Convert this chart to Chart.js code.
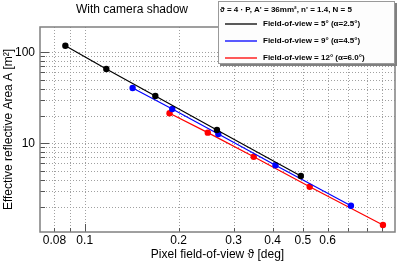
<!DOCTYPE html>
<html>
<head>
<meta charset="utf-8">
<script src="https://cdn.jsdelivr.net/npm/chart.js@4/dist/chart.umd.min.js"></script>
<style>
html,body{margin:0;padding:0;background:#fff;}
#wrap{width:399px;height:265px;position:relative;}
</style>
</head>
<body>
<div id="wrap"><canvas id="c" width="399" height="265"></canvas></div>
<script>
// ---- data ----
const seriesNames = ["Field-of-view = 5\u00B0 (\u03B1=2.5\u00B0)", "Field-of-view = 9\u00B0 (\u03B1=4.5\u00B0)", "Field-of-view = 12\u00B0 (\u03B1=6.0\u00B0)"];
const xBlack = [0.0867, 0.1173, 0.1684, 0.2653, 0.4926];
const yBlack = [118.2, 65.5, 33.1, 14.0, 4.37];
const xBlue  = [0.1424, 0.1908, 0.268, 0.4086, 0.713];
const yBlue  = [40.5, 23.8, 12.66, 5.73, 2.06];
const xRed   = [0.187, 0.248, 0.348, 0.526, 0.903];
const yRed   = [21.4, 13.1, 7.12, 3.33, 1.265];
const xGridValues = [0.08, 0.09, 0.1, 0.2, 0.3, 0.4, 0.5, 0.6, 0.7, 0.8, 0.9];
const xTickLabels = ["0.08", "0.1", "0.2", "0.3", "0.4", "0.5", "0.6"];
const yGridValues = [2, 3, 4, 5, 6, 7, 8, 9, 10, 20, 30, 40, 50, 60, 70, 80, 90, 100];
const yTickLabels = ["10", "100"];
const xMajor = [0.1];
const yMajor = [10, 100];
const titleText = "With camera shadow";
const xTitle = "Pixel field-of-view \u03D1 [deg]";
const yTitle = "Effective reflective Area A [m\u00B2]";
const legendHeader = "\u03D1 = 4 \u00B7 P, A' = 36mm\u00B2, n' = 1.4, N = 5";
const colors = ["#000000", "#0000ff", "#ff0000"];

function pts(xs, ys){ return xs.map((x,i)=>({x:x, y:ys[i]})); }

const FONT = "'Liberation Sans', Arial, Helvetica, sans-serif";

const decorPlugin = {
  id: 'decor',
  beforeDatasetsDraw(chart){
    const ctx = chart.ctx, a = chart.chartArea;
    const xs = chart.scales.x, ys = chart.scales.y;
    ctx.save();
    ctx.strokeStyle = '#a0a0a0';
    ctx.lineWidth = 1;
    ctx.setLineDash([1,2]);
    xGridValues.forEach(v=>{
      const px = Math.round(xs.getPixelForValue(v)) + 0.5;
      ctx.beginPath(); ctx.moveTo(px, a.top); ctx.lineTo(px, a.bottom); ctx.stroke();
    });
    yGridValues.forEach(v=>{
      const py = Math.round(ys.getPixelForValue(v)) + 0.5;
      ctx.beginPath(); ctx.moveTo(a.left, py); ctx.lineTo(a.right, py); ctx.stroke();
    });
    ctx.restore();
  },
  afterDatasetsDraw(chart){
    const ctx = chart.ctx, a = chart.chartArea;
    const xs = chart.scales.x, ys = chart.scales.y;
    ctx.save();
    // inside ticks
    ctx.strokeStyle = '#555';
    ctx.lineWidth = 1;
    xGridValues.forEach(v=>{
      const px = Math.round(xs.getPixelForValue(v)) + 0.5;
      const len = xMajor.includes(v) ? 8 : 4;
      ctx.beginPath(); ctx.moveTo(px, a.bottom); ctx.lineTo(px, a.bottom - len); ctx.stroke();
    });
    yGridValues.forEach(v=>{
      const py = Math.round(ys.getPixelForValue(v)) + 0.5;
      const len = yMajor.includes(v) ? 9 : 5;
      ctx.beginPath(); ctx.moveTo(a.left, py); ctx.lineTo(a.left + len, py); ctx.stroke();
    });
    // frame
    ctx.strokeStyle = '#808080';
    ctx.lineWidth = 1.5;
    ctx.strokeRect(a.left, a.top, a.right - a.left, a.bottom - a.top);
    ctx.restore();
  },
  afterDraw(chart){
    const ctx = chart.ctx, a = chart.chartArea;
    ctx.save();
    ctx.fillStyle = '#000';
    ctx.textBaseline = 'middle';
    // title
    ctx.font = '12px ' + FONT;
    ctx.textAlign = 'center';
    ctx.fillText(titleText, 132, 10);
    // x title
    ctx.fillText(xTitle, (a.left + a.right)/2, 255);
    // y title
    ctx.save();
    ctx.translate(9, (a.top + a.bottom)/2);
    ctx.rotate(-Math.PI/2);
    ctx.fillText(yTitle, 0, 0);
    ctx.restore();
    // legend
    const L = 218, T = 1, R = 395, B = 64;
    ctx.fillStyle = '#808080';
    ctx.fillRect(L + 2, T + 2, R - L, B - T);
    ctx.fillStyle = '#fdfdfd';
    ctx.fillRect(L, T, R - L, B - T);
    ctx.strokeStyle = '#9a9a9a';
    ctx.lineWidth = 1;
    ctx.strokeRect(L + 0.5, T + 0.5, R - L - 1, B - T - 1);
    ctx.fillStyle = '#000';
    ctx.font = 'bold 8px ' + FONT;
    ctx.textAlign = 'left';
    ctx.fillText(legendHeader, 220, 10);
    const rows = [24, 41, 58];
    seriesNames.forEach((name, i)=>{
      ctx.strokeStyle = colors[i];
      ctx.lineWidth = 1.3;
      ctx.beginPath(); ctx.moveTo(225, rows[i]); ctx.lineTo(257, rows[i]); ctx.stroke();
      ctx.fillStyle = '#000';
      ctx.fillText(name, 263, rows[i]);
    });
    ctx.restore();
  }
};

const mkDs = (label, xs, ys, c) => ({
  label: label, data: pts(xs, ys), showLine: true,
  borderColor: c, backgroundColor: c, borderWidth: 1.2,
  pointRadius: 3.2, pointHoverRadius: 3.2, pointBorderWidth: 0, tension: 0
});

new Chart(document.getElementById('c'), {
  type: 'scatter',
  data: {
    datasets: [
      mkDs(seriesNames[0], xBlack, yBlack, colors[0]),
      mkDs(seriesNames[1], xBlue, yBlue, colors[1]),
      mkDs(seriesNames[2], xRed, yRed, colors[2])
    ]
  },
  options: {
    responsive: false,
    animation: false,
    events: [],
    layout: { padding: { left: 0, right: 4, top: 27, bottom: 0 } },
    plugins: { legend: { display: false }, title: { display: false }, tooltip: { enabled: false } },
    scales: {
      x: {
        type: 'logarithmic', min: 0.0719, max: 0.987,
        grid: { display: false, drawTicks: false }, border: { display: false },
        afterBuildTicks: s => { s.ticks = xGridValues.map(v => ({ value: v })); },
        afterFit: s => { s.height = 33; },
        ticks: {
          autoSkip: false, maxRotation: 0, minRotation: 0, padding: 1,
          color: '#000', font: { family: FONT, size: 12 },
          callback: (v) => { const t = String(v); return xTickLabels.includes(t) ? t : ''; }
        }
      },
      y: {
        type: 'logarithmic', min: 1.06, max: 189.7,
        grid: { display: false, drawTicks: false }, border: { display: false },
        afterBuildTicks: s => { s.ticks = yGridValues.map(v => ({ value: v })); },
        afterFit: s => { s.width = 40; },
        ticks: {
          autoSkip: false, padding: 5,
          color: '#000', font: { family: FONT, size: 12 },
          callback: (v) => { const t = String(v); return yTickLabels.includes(t) ? t : ''; }
        }
      }
    }
  },
  plugins: [decorPlugin]
});
</script>
</body>
</html>
